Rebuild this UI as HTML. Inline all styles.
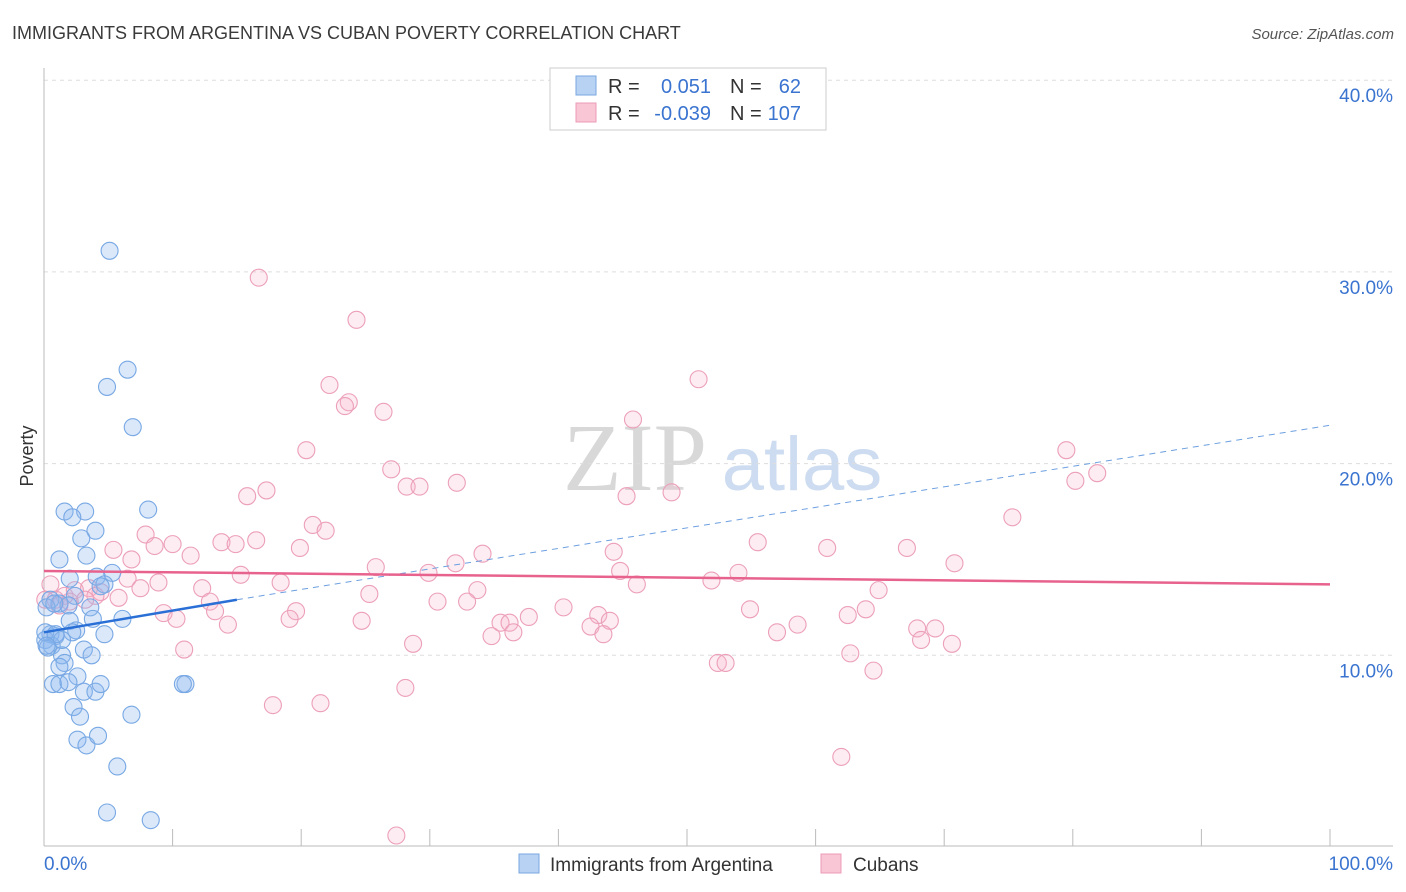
<!DOCTYPE html>
<html><head><meta charset="utf-8"><style>
body{margin:0;background:#fff;font-family:"Liberation Sans",sans-serif;}
svg{display:block}
</style></head><body>
<svg id="chart" width="1406" height="892" xmlns="http://www.w3.org/2000/svg" font-family="Liberation Sans, sans-serif">
<text x="12" y="39" font-size="18" fill="#3a3a3a">IMMIGRANTS FROM ARGENTINA VS CUBAN POVERTY CORRELATION CHART</text>
<text x="1394" y="39" font-size="15" fill="#555" text-anchor="end" font-style="italic">Source: ZipAtlas.com</text>
<g>
<text x="635" y="490" font-size="96" fill="#d8d8d8" text-anchor="middle" font-family="Liberation Serif, serif">ZIP</text>
<text x="802" y="490" font-size="76" fill="#cddcf0" text-anchor="middle">atlas</text>
</g>
<g id="grid"></g>
<g id="axes"></g>
<g id="points"></g>
<g id="trends"></g>
<g>
<rect x="550" y="68" width="276" height="62" fill="#fff" stroke="#ccc"/>
<rect x="576" y="76" width="20" height="19" fill="#b8d2f3" stroke="#7aa7e0"/>
<rect x="576" y="103" width="20" height="19" fill="#f9c6d6" stroke="#ec9bb6"/>
<text x="608" y="93" font-size="20" fill="#333">R =</text>
<text x="711" y="93" font-size="20" fill="#3a74d0" text-anchor="end">0.051</text>
<text x="730" y="93" font-size="20" fill="#333">N =</text>
<text x="801" y="93" font-size="20" fill="#3a74d0" text-anchor="end">62</text>
<text x="608" y="120" font-size="20" fill="#333">R =</text>
<text x="711" y="120" font-size="20" fill="#3a74d0" text-anchor="end">-0.039</text>
<text x="730" y="120" font-size="20" fill="#333">N =</text>
<text x="801" y="120" font-size="20" fill="#3a74d0" text-anchor="end">107</text>
</g>
<g>
<rect x="519" y="854" width="20" height="19" fill="#b8d2f3" stroke="#7aa7e0"/>
<text x="550" y="871" font-size="19" fill="#333">Immigrants from Argentina</text>
<rect x="821" y="854" width="20" height="19" fill="#f9c6d6" stroke="#ec9bb6"/>
<text x="853" y="871" font-size="19" fill="#333">Cubans</text>
</g>
<text transform="translate(33,456) rotate(-90)" font-size="18" fill="#333" text-anchor="middle">Poverty</text>
</svg>
<script>
const blueX=[5.1,6.5,4.9,6.9,8.1,1.6,3.2,2.2,4.0,2.9,1.2,3.3,2.0,4.1,5.3,4.7,4.4,2.4,0.5,1.2,1.9,3.6,6.1,2.0,3.8,2.5,2.2,4.7,0.5,0.9,0.1,0.6,0.3,3.1,3.7,1.4,1.6,1.2,2.6,0.7,1.2,1.9,3.1,4.0,4.4,11.0,10.8,2.3,2.8,6.8,2.6,3.3,4.2,5.7,4.9,8.3,0.2,0.8,1.4,0.1,0.9,0.2];
const blueY=[31.1,24.9,24.0,21.9,17.6,17.5,17.5,17.2,16.5,16.1,15.0,15.2,14.0,14.1,14.3,13.7,13.6,13.1,12.9,12.7,12.6,12.5,11.9,11.8,11.9,11.3,11.2,11.1,11.1,11.0,10.8,10.5,10.4,10.3,10.0,10.0,9.6,9.4,8.9,8.5,8.5,8.6,8.1,8.1,8.5,8.5,8.5,7.3,6.8,6.9,5.6,5.3,5.8,4.2,1.8,1.4,12.5,12.7,10.8,11.2,11.1,10.5];
const pinkX=[16.7,24.3,22.2,23.7,23.4,26.4,45.8,50.9,20.4,27.0,32.1,28.2,29.2,17.3,15.8,48.8,45.3,79.5,81.9,80.2,75.3,20.9,21.9,7.9,8.6,10.0,11.4,13.8,14.9,16.5,19.9,5.4,6.8,34.1,44.3,55.5,60.9,67.1,70.8,32.0,25.8,15.3,18.4,29.9,44.8,54.0,51.9,8.9,6.5,7.5,12.3,25.3,46.1,33.7,64.9,5.8,4.4,3.5,4.0,12.9,13.3,9.3,10.3,14.3,19.6,19.1,24.7,30.6,32.9,37.7,40.4,43.1,44.0,42.5,35.5,36.2,36.5,34.8,43.5,54.9,58.6,57.0,62.5,63.9,67.9,69.3,68.2,70.6,62.7,64.5,28.7,10.9,52.4,53.0,17.8,21.5,28.1,62.0,27.4,0.5,0.9,1.6,2.4,3.2,1.2,2.0,0.1];
const pinkY=[29.7,27.5,24.1,23.2,23.0,22.7,22.3,24.4,20.7,19.7,19.0,18.8,18.8,18.6,18.3,18.5,18.3,20.7,19.5,19.1,17.2,16.8,16.5,16.3,15.7,15.8,15.2,15.9,15.8,16.0,15.6,15.5,15.0,15.3,15.4,15.9,15.6,15.6,14.8,14.8,14.6,14.2,13.8,14.3,14.4,14.3,13.9,13.8,14.0,13.5,13.5,13.2,13.7,13.4,13.4,13.0,13.3,13.5,13.1,12.8,12.3,12.2,11.9,11.6,12.3,11.9,11.8,12.8,12.8,12.0,12.5,12.1,11.8,11.5,11.7,11.7,11.2,11.0,11.1,12.4,11.6,11.2,12.1,12.4,11.4,11.4,10.8,10.6,10.1,9.2,10.6,10.3,9.6,9.6,7.4,7.5,8.3,4.7,0.6,13.7,12.9,13.1,13.4,12.9,12.6,12.8,12.9];
const yTicks=[10,20,30,40];
const yTickLabels=["10.0%","20.0%","30.0%","40.0%"];
const xTicks=[0,10,20,30,40,50,60,70,80,90,100];
const blueTrend=[[0,11.2],[15,12.9],[100,22.0]];
const pinkTrend=[[0,14.4],[100,13.7]];
const NS="http://www.w3.org/2000/svg";
const X=v=>44+v*12.86;
const Y=v=>847-v*19.17;
function mk(t,a,p){const e=document.createElementNS(NS,t);for(const k in a)e.setAttribute(k,a[k]);p.appendChild(e);return e;}
const grid=document.getElementById('grid');
yTicks.forEach((t,i)=>{
 const l=mk('line',{x1:44,x2:1393,y1:Y(t),y2:Y(t),stroke:'#ddd','stroke-dasharray':'4,4'},grid);
 
 
 const tx=mk('text',{x:1393,y:Y(t)+22,'font-size':19,fill:'#3a74d0','text-anchor':'end'},grid);
 tx.textContent=yTickLabels[i];
 
 
});
const axes=document.getElementById('axes');
mk('line',{x1:44,x2:44,y1:68,y2:846,stroke:'#bbb'},axes);
mk('line',{x1:44,x2:1393,y1:846,y2:846,stroke:'#bbb'},axes);
xTicks.forEach(t=>{const l=mk('line',{x1:X(t),x2:X(t),y1:829,y2:846,stroke:'#bbb'},axes);
 
 });
const xl0=mk('text',{x:44,y:870,'font-size':19,fill:'#3a74d0'},axes);xl0.textContent='0.0%';


const xl1=mk('text',{x:1393,y:870,'font-size':19,fill:'#3a74d0','text-anchor':'end'},axes);xl1.textContent='100.0%';


const pts=document.getElementById('points');
pinkX.forEach((v,i)=>{const c=mk('circle',{cx:X(v),cy:Y(pinkY[i]),r:8.5,fill:'rgba(246,180,202,0.25)',stroke:'#ec9fb9','stroke-width':1.1},pts);
 
 });
blueX.forEach((v,i)=>{const c=mk('circle',{cx:X(v),cy:Y(blueY[i]),r:8.5,fill:'rgba(140,185,238,0.32)',stroke:'#78a8e4','stroke-width':1.1},pts);
 
 });
const tr=document.getElementById('trends');
const bs=mk('line',{x1:X(blueTrend[0][0]),y1:Y(blueTrend[0][1]),x2:X(blueTrend[1][0]),y2:Y(blueTrend[1][1]),stroke:'#2a6fd6','stroke-width':2.5},tr);


const bd=mk('line',{x1:X(blueTrend[1][0]),y1:Y(blueTrend[1][1]),x2:X(blueTrend[2][0]),y2:Y(blueTrend[2][1]),stroke:'#6c9fe0','stroke-width':1,'stroke-dasharray':'6,5'},tr);


const pl=mk('line',{x1:X(pinkTrend[0][0]),y1:Y(pinkTrend[0][1]),x2:X(pinkTrend[1][0]),y2:Y(pinkTrend[1][1]),stroke:'#e8628e','stroke-width':2.5},tr);


</script>
</body></html>
